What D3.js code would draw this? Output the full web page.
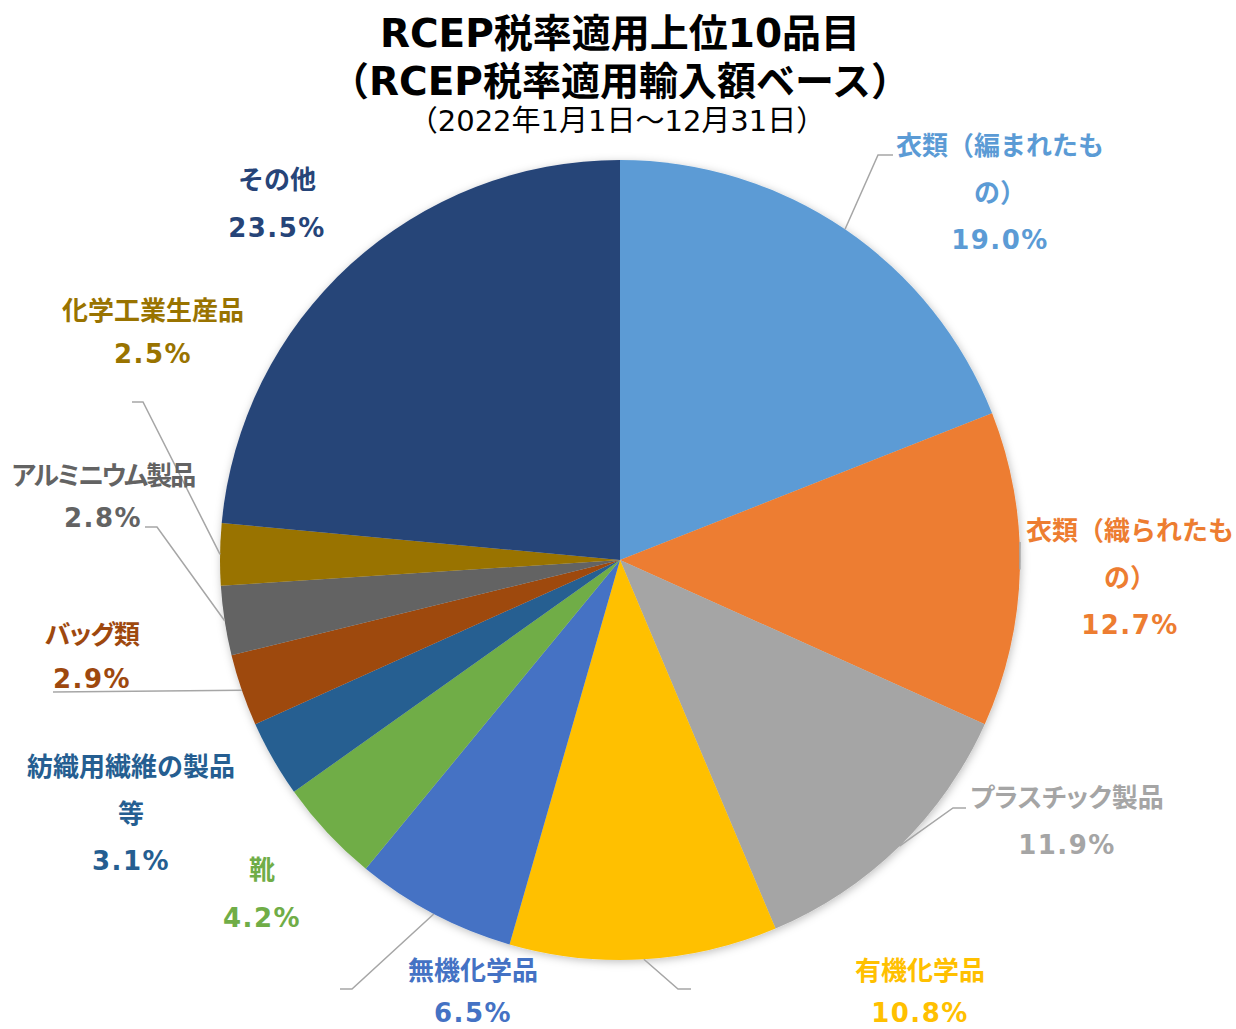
<!DOCTYPE html>
<html>
<head>
<meta charset="utf-8">
<script src="https://cdn.jsdelivr.net/npm/d3@7"></script>
<style>
  body { margin: 0; background: #fff; }
  text { font-family: "DejaVu Sans", "Noto Sans CJK JP", sans-serif; }
</style>
</head>
<body>
<svg id="chart" width="1236" height="1029"></svg>
<script>
// Data
var categories = ["衣類（編まれたもの）", "衣類（織られたもの）", "プラスチック製品", "有機化学品",
    "無機化学品", "靴", "紡織用繊維の製品等", "バッグ類", "アルミニウム製品", "化学工業生産品", "その他"];
var shares = [19.0, 12.7, 11.9, 10.8, 6.5, 4.2, 3.1, 2.9, 2.8, 2.5, 23.5];
var colors = ["#5B9BD5", "#ED7D31", "#A5A5A5", "#FFC000", "#4472C4", "#70AD47",
    "#255E91", "#9E480E", "#636363", "#997300", "#264478"];
var labelLines = [["衣類（編まれたも", "の）"], ["衣類（織られたも", "の）"], ["プラスチック製品"], ["有機化学品"],
    ["無機化学品"], ["靴"], ["紡織用繊維の製品", "等"], ["バッグ類"], ["アルミニウム製品"], ["化学工業生産品"], ["その他"]];

// Label layout: text centre x, first line centre y, line gap, leader elbow + end (null = no leader)
var labelLayout = [
    { x: 1000, y: 146, gap: 47, leader: [[878, 155], [893, 155]] },
    { x: 1130, y: 531, gap: 47, leader: [[1020, 542], [1020, 542]] },
    { x: 1067, y: 798, gap: 47, palt: true, leader: [[953, 808], [966, 808]] },
    { x: 920, y: 971, gap: 42, leader: [[678, 989], [691, 989]] },
    { x: 473, y: 971, gap: 42, leader: [[352, 989], [340, 989]] },
    { x: 262, y: 870, gap: 48, leader: null },
    { x: 131, y: 767, gap: 47, leader: null },
    { x: 92, y: 635, gap: 44, palt: true, ls: -1, leader: [[53, 692], [53, 692]] },
    { x: 103, y: 476, gap: 42, palt: true, ls: -2, leader: [[157, 527], [145, 527]] },
    { x: 153, y: 311, gap: 43, leader: [[143, 402], [132, 402]] },
    { x: 277, y: 180, gap: 48, leader: null }
];

var svg = d3.select("#chart");
var cx = 620, cy = 560, radius = 400;

// Title
var title = svg.append("g").attr("text-anchor", "middle");
title.append("text").attr("x", 620).attr("y", 47)
    .attr("font-size", 39).attr("font-weight", "bold").text("RCEP税率適用上位10品目");
title.append("text").attr("x", 620).attr("y", 95)
    .attr("font-size", 39).attr("font-weight", "bold").text("（RCEP税率適用輸入額ベース）");
title.append("text").attr("x", 617).attr("y", 131)
    .attr("font-size", 29).text("（2022年1月1日～12月31日）");

// Shadow
var defs = svg.append("defs");
var f = defs.append("filter").attr("id", "shadow").attr("x", "-10%").attr("y", "-10%")
    .attr("width", "120%").attr("height", "120%");
f.append("feDropShadow").attr("dx", 1).attr("dy", 2).attr("stdDeviation", 4)
    .attr("flood-color", "#000").attr("flood-opacity", 0.25);

var pie = d3.pie().sort(null).value(function(d) { return d; });
var arcs = pie(shares);
var arc = d3.arc().innerRadius(0).outerRadius(radius);

var g = svg.append("g").attr("transform", "translate(" + cx + "," + cy + ")");
g.append("g").attr("filter", "url(#shadow)")
    .selectAll("path")
    .data(arcs)
    .enter()
    .append("path")
    .attr("d", arc)
    .attr("fill", function(d, i) { return colors[i]; });

// Leader lines
arcs.forEach(function(d, i) {
    var lay = labelLayout[i];
    if (!lay.leader) return;
    var mid = (d.startAngle + d.endAngle) / 2;
    var start = [cx + radius * Math.sin(mid), cy - radius * Math.cos(mid)];
    var pts = [start].concat(lay.leader);
    svg.append("path")
        .attr("d", d3.line()(pts))
        .attr("fill", "none")
        .attr("stroke", "#A6A6A6")
        .attr("stroke-width", 1.5);
});

// Labels
arcs.forEach(function(d, i) {
    var lay = labelLayout[i];
    var t = svg.append("text")
        .attr("text-anchor", "middle")
        .attr("font-size", 26)
        .attr("font-weight", "bold")
        .attr("fill", colors[i])
        .style("font-feature-settings", lay.palt ? "'palt'" : null);
    labelLines[i].forEach(function(s, k) {
        t.append("tspan")
            .attr("x", lay.x)
            .attr("y", lay.y + k * lay.gap)
            .attr("dy", "0.36em")
            .attr("letter-spacing", lay.ls || 0)
            .text(s);
    });
    t.append("tspan")
        .attr("x", lay.x)
        .attr("y", lay.y + labelLines[i].length * lay.gap)
        .attr("dy", "0.36em")
        .attr("letter-spacing", 1.5)
        .text(shares[i].toFixed(1) + "%");
});
</script>
</body>
</html>
